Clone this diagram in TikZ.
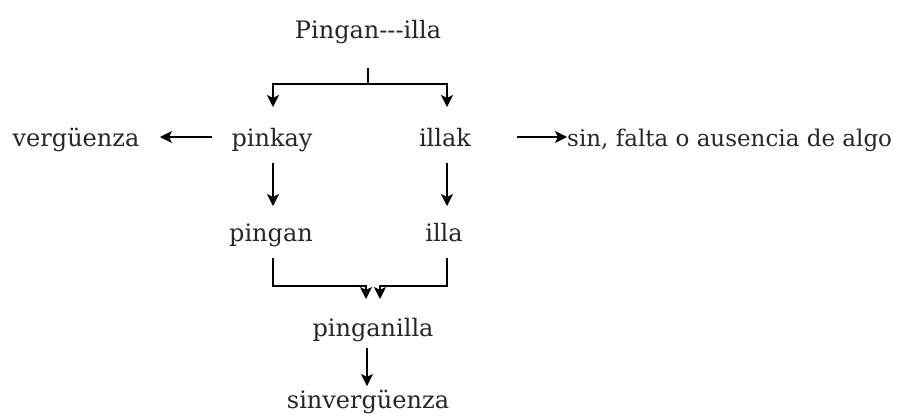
\documentclass[tikz,border=0pt]{standalone}
\usepackage{fontspec}
\setmainfont{DejaVu Serif}
\usetikzlibrary{arrows.meta}
\begin{document}
\begin{tikzpicture}[x=1pt,y=-1pt,
  word/.style={font=\fontsize{24}{29}\selectfont, text=black!85, inner sep=0pt, anchor=base},
  link/.style={draw=black, line width=1.3pt},
  arr/.style={link, -{Stealth[length=12pt,width=12pt,inset=3pt]}}]
\useasboundingbox (0,0) rectangle (904,416);
% words
\node[word] (root)  at (368,38)  {Pingan-{}-{}-illa};
\node[word] (pinkay) at (272,146) {pinkay};
\node[word] (illak)  at (445,146) {illak};
\node[word] (verg)   at (76,146)  {vergüenza};
\node[word, anchor=base west, font=\fontsize{23}{28}\selectfont] (sin) at (567,146) {sin, falta o ausencia de algo};
\node[word] (pingan) at (271,241) {pingan};
\node[word] (illa)   at (444,241) {illa};
\node[word] (pgnl)   at (373,336) {pinganilla};
\node[word] (sinv)   at (368,408) {sinvergüenza};
% splitting the root
\coordinate (fork) at (368,84);
\draw[link] (368,68) -- (fork);
\draw[arr] (fork) -| (273,107);
\draw[arr] (fork) -| (447,107);
% meanings
\draw[arr] (212,137) -- (160,137);
\draw[arr] (517,137) -- (567,137);
% forms
\draw[arr] (273,163) -- (273,206);
\draw[arr] (447,163) -- (447,206);
% joining
\draw[arr] (273,258) |- (366,286) -- (366,299);
\draw[arr] (447,258) |- (380,286) -- (380,299);
\draw[arr] (367,348) -- (367,386);
\end{tikzpicture}
\end{document}
